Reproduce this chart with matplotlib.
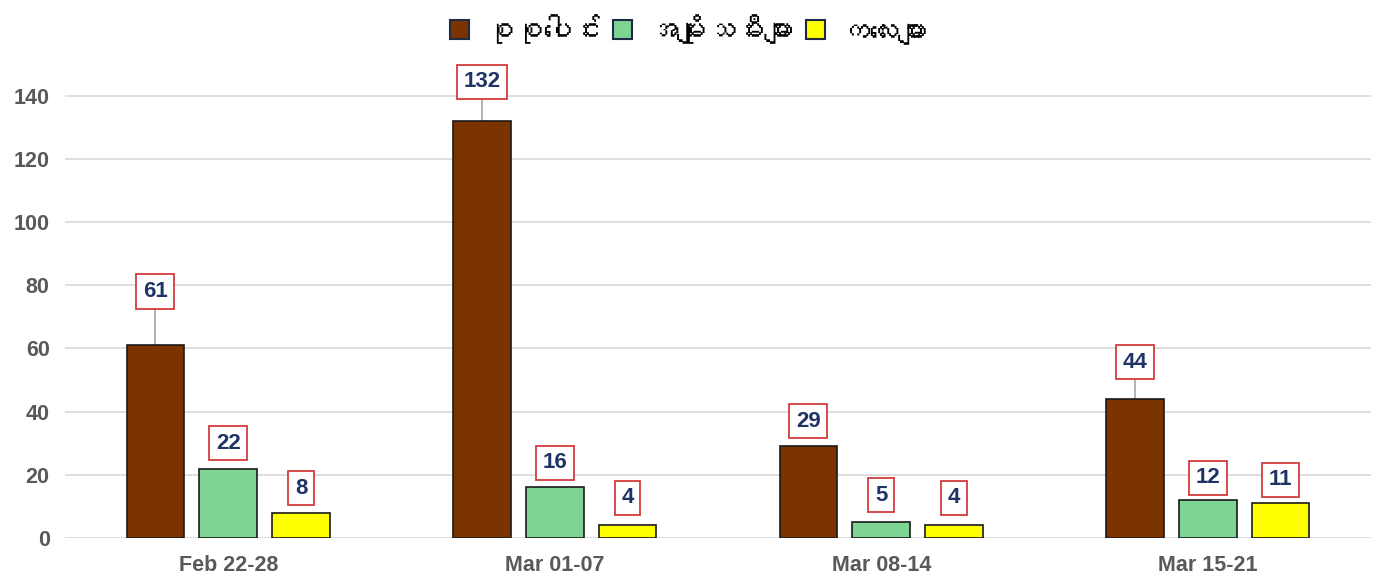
import numpy as np
import matplotlib
matplotlib.use("Agg")
import matplotlib.pyplot as plt
from matplotlib import font_manager, ft2font
from matplotlib.patches import Patch

# ---- data ----
categories = ["Feb 22-28", "Mar 01-07", "Mar 08-14", "Mar 15-21"]
series_names = ["စုစုပေါင်း", "အမျိုးသမီးများ", "ကလေးများ"]
total = [61, 132, 29, 44]
women = [22, 16, 5, 12]
children = [8, 4, 4, 11]
yticks = [0, 20, 40, 60, 80, 100, 120, 140]

# ---- style ----
colors = ["#7B3300", "#7DD493", "#FFFF00"]
label_offsets = [[17, 12.4, 8, 11.7], [8, 7.8, 8.6, 7], [7.8, 8.7, 8.7, 7.4]]

# find a font with Myanmar glyphs, if any
my_fam = None
for f in font_manager.fontManager.ttflist:
    try:
        ft = ft2font.FT2Font(f.fname)
        if 0x1005 in ft.get_charmap():
            my_fam = f.name
            break
    except Exception:
        pass
base = "Liberation Sans"
fam_list = [base] + ([my_fam] if my_fam else []) + ["DejaVu Sans"]
plt.rcParams["font.family"] = fam_list

fig = plt.figure(figsize=(13.78, 5.75), dpi=100)
ax = fig.add_axes([65/1378, 37/575, (1371-65)/1378, (538-80)/575])

x = np.arange(len(categories))
w = 0.177
pitch = 0.223
all_series = [total, women, children]
for i, (vals, c) in enumerate(zip(all_series, colors)):
    xs = x + (i - 1) * pitch
    ax.bar(xs, vals, width=w, color=c, edgecolor="#1a1a1a", linewidth=1.2, zorder=3)
    for xi, v, off in zip(xs, vals, label_offsets[i]):
        ly = v + off
        if off > 10:
            ax.plot([xi, xi], [v, ly], color="#A6A6A6", lw=1.2, zorder=2)
        ax.text(xi, ly, str(v), ha="center", va="center", fontsize=16,
                fontweight="bold", color="#1F3464", zorder=5,
                bbox=dict(boxstyle="square,pad=0.3", facecolor="white",
                          edgecolor="#D43A3A", linewidth=1.3))

ax.set_xlim(-0.5, 3.5)
ax.set_ylim(0, 145)
ax.set_yticks(yticks)
ax.set_xticks(x)
ax.set_xticklabels(categories)
ax.grid(axis="y", color="#D9D9D9", linewidth=1.2, zorder=0)
for s in ax.spines.values():
    s.set_visible(False)
ax.tick_params(axis="both", length=0, labelsize=15.5, labelcolor="#595959")
ax.tick_params(axis="y", pad=11)
ax.tick_params(axis="x", pad=12)
for t in ax.get_xticklabels() + ax.get_yticklabels():
    t.set_fontweight("bold")

handles = [Patch(facecolor=c, edgecolor="#1F2A44", linewidth=1.5) for c in colors]
fig.legend(handles, series_names, loc="center", bbox_to_anchor=(0.5, 1 - 31/575),
           ncol=3, frameon=False, fontsize=21, handlelength=0.65, handleheight=0.65,
           handletextpad=0.55, columnspacing=0.4)

fig.savefig("out.png", dpi=100)
